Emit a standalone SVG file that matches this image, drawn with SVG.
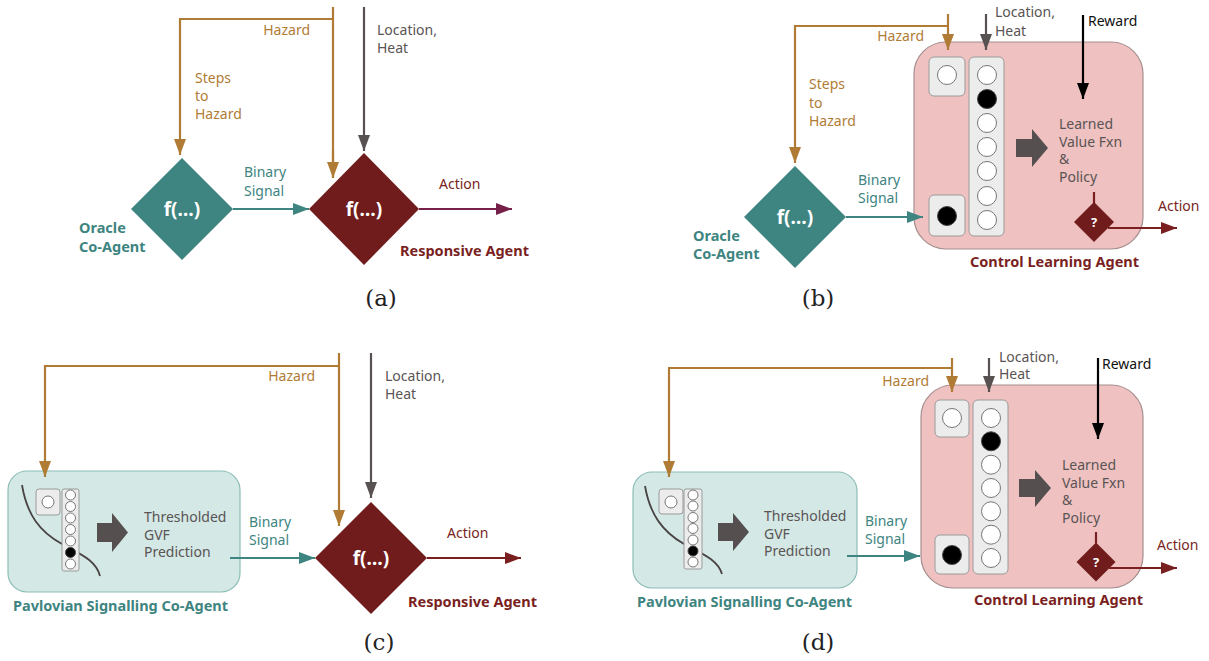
<svg xmlns="http://www.w3.org/2000/svg" width="1209" height="661" viewBox="0 0 1209 661">
<defs>
<style>
text{font-family:"Noto Sans","Open Sans","Liberation Sans",sans-serif;font-size:14px}
.or{fill:#b07c35}.gy{fill:#5a5454}.tl{fill:#3e8480}.rd{fill:#7a1f22}.bk{fill:#111}
.b{font-weight:700;font-size:14.5px}
.cap{font-family:"DejaVu Serif","Liberation Serif",serif;font-size:23px;fill:#222;text-anchor:middle}
.fn{fill:#fff;font-weight:700;font-size:19px;text-anchor:middle}
.q{fill:#fff;font-weight:700;font-size:13px;text-anchor:middle}
.lo{stroke:#b07c35;stroke-width:2.2;fill:none}
.lg{stroke:#575151;stroke-width:2.2;fill:none}
.lt{stroke:#3e8480;stroke-width:2.2;fill:none}
.lr{stroke:#7a1f1f;stroke-width:2.2;fill:none}
.lp{stroke:#76214a;stroke-width:2.2;fill:none}
.lb{stroke:#000;stroke-width:2.2;fill:none}
.dt{fill:#3e8480}.dr{fill:#701c1c}
.pk{fill:#efc1c1;stroke:#a58f8f;stroke-width:1.2}
.tb{fill:#d4e8e6;stroke:#8dbdb8;stroke-width:1.2}
.gb{fill:#ececec;stroke:#9a9a9a;stroke-width:1}
.wc{fill:#fff;stroke:#777;stroke-width:1}
.kc{fill:#000;stroke:#444;stroke-width:1}
.ar{fill:#564f4f}
.cv{fill:none;stroke:#4a4444;stroke-width:1.8}
</style>
<marker id="mo" markerUnits="userSpaceOnUse" markerWidth="16" markerHeight="12" refX="16" refY="6" orient="auto"><path d="M0,0 L16,6 L0,12 z" fill="#b07c35"/></marker>
<marker id="mg" markerUnits="userSpaceOnUse" markerWidth="16" markerHeight="12" refX="16" refY="6" orient="auto"><path d="M0,0 L16,6 L0,12 z" fill="#575151"/></marker>
<marker id="mt" markerUnits="userSpaceOnUse" markerWidth="16" markerHeight="12" refX="16" refY="6" orient="auto"><path d="M0,0 L16,6 L0,12 z" fill="#3e8480"/></marker>
<marker id="mr" markerUnits="userSpaceOnUse" markerWidth="16" markerHeight="12" refX="16" refY="6" orient="auto"><path d="M0,0 L16,6 L0,12 z" fill="#7a1f1f"/></marker>
<marker id="mp" markerUnits="userSpaceOnUse" markerWidth="16" markerHeight="12" refX="16" refY="6" orient="auto"><path d="M0,0 L16,6 L0,12 z" fill="#76214a"/></marker>
<marker id="mb" markerUnits="userSpaceOnUse" markerWidth="16" markerHeight="12" refX="16" refY="6" orient="auto"><path d="M0,0 L16,6 L0,12 z" fill="#000"/></marker>
</defs>
<rect width="1209" height="661" fill="#fff"/>

<!-- ===== Panel (a) ===== -->
<g id="a-oracle">
<path class="dt" d="M182,158 L233,209 L182,260 L131,209 z"/>
<text class="fn" x="182" y="216">f(…)</text>
<text class="tl b" x="79" y="233">Oracle</text>
<text class="tl b" x="79" y="252">Co-Agent</text>
</g>
<g id="a-responsive">
<path class="dr" d="M364,153 L419,209 L364,265 L309,209 z"/>
<text class="fn" x="364" y="216">f(…)</text>
<text class="rd b" x="400" y="256">Responsive Agent</text>
</g>
<g id="a-connectors">
<path class="lo" d="M333,7 L333,178"/>
<path class="lo" d="M333,19 L180,19 L180,155" marker-end="url(#mo)"/>
<path class="lo" d="M333,150 L333,178" marker-end="url(#mo)"/>
<path class="lg" d="M364,7 L364,151" marker-end="url(#mg)"/>
<path class="lt" d="M233,209 L309,209" marker-end="url(#mt)"/>
<path class="lp" d="M419,209 L512,209" marker-end="url(#mp)"/>
<text class="or" x="310" y="35" text-anchor="end">Hazard</text>
<text class="or" x="195" y="83">Steps</text>
<text class="or" x="195" y="101">to</text>
<text class="or" x="195" y="119">Hazard</text>
<text class="gy" x="377" y="35">Location,</text>
<text class="gy" x="377" y="53">Heat</text>
<text class="tl" x="244" y="177">Binary</text>
<text class="tl" x="244" y="196">Signal</text>
<text class="rd" x="439" y="189">Action</text>
</g>
<text class="cap" x="381" y="306">(a)</text>

<!-- ===== Panel (b) ===== -->
<g id="b-oracle">
<path class="dt" d="M795,166 L846,217 L795,268 L744,217 z"/>
<text class="fn" x="795" y="224">f(…)</text>
<text class="tl b" x="693" y="241">Oracle</text>
<text class="tl b" x="693" y="259">Co-Agent</text>
</g>
<g id="b-control">
<rect class="pk" x="914" y="42" width="229" height="207" rx="32"/>
<rect class="gb" x="929" y="57" width="36" height="39" rx="5"/>
<circle class="wc" cx="947" cy="75" r="9.5"/>
<rect class="gb" x="929" y="195" width="36" height="41" rx="5"/>
<circle class="kc" cx="947" cy="216" r="9.5"/>
<rect class="gb" x="969" y="57" width="35" height="179" rx="5"/>
<circle class="wc" cx="987" cy="75" r="9.5"/>
<circle class="kc" cx="987" cy="99" r="9.5"/>
<circle class="wc" cx="987" cy="123" r="9.5"/>
<circle class="wc" cx="987" cy="147" r="9.5"/>
<circle class="wc" cx="987" cy="171" r="9.5"/>
<circle class="wc" cx="987" cy="196" r="9.5"/>
<circle class="wc" cx="987" cy="220" r="9.5"/>
<path class="ar" d="M1016,139 L1032,139 L1032,129 L1048,148 L1032,167 L1032,157 L1016,157 z"/>
<text class="gy" x="1059" y="129">Learned</text>
<text class="gy" x="1059" y="146.5">Value Fxn</text>
<text class="gy" x="1059" y="164">&amp;</text>
<text class="gy" x="1059" y="181.5">Policy</text>
<path class="lr" d="M1094,192 L1094,203"/>
<path class="dr" d="M1094,202 L1114,222 L1094,242 L1074,222 z"/>
<text class="q" x="1094" y="227">?</text>
<text class="rd b" x="970" y="267">Control Learning Agent</text>
</g>
<g id="b-connectors">
<path class="lo" d="M948,14 L948,50" marker-end="url(#mo)"/>
<path class="lo" d="M948,26 L795,26 L795,163" marker-end="url(#mo)"/>
<path class="lg" d="M986,14 L986,50" marker-end="url(#mg)"/>
<path class="lb" d="M1083,15 L1083,99" marker-end="url(#mb)"/>
<path class="lt" d="M846,217 L923,217" marker-end="url(#mt)"/>
<path class="lr" d="M1108,228 L1177,228" marker-end="url(#mr)"/>
<text class="or" x="924" y="41" text-anchor="end">Hazard</text>
<text class="or" x="809" y="89">Steps</text>
<text class="or" x="809" y="108">to</text>
<text class="or" x="809" y="126">Hazard</text>
<text class="gy" x="995" y="17">Location,</text>
<text class="gy" x="995" y="36">Heat</text>
<text class="bk" x="1088" y="26">Reward</text>
<text class="tl" x="858" y="185">Binary</text>
<text class="tl" x="858" y="203">Signal</text>
<text class="rd" x="1158" y="211">Action</text>
</g>
<text class="cap" x="818" y="306">(b)</text>

<!-- ===== Panel (c) ===== -->
<g id="c-pavlovian">
<rect class="tb" x="8" y="471" width="232" height="121" rx="19"/>
<path class="cv" d="M22,485 C27,515 40,532 62,544 C80,554 96,560 100,576"/>
<rect class="gb" x="36" y="489" width="24" height="26" rx="3"/>
<circle class="wc" cx="48" cy="502" r="6"/>
<rect class="gb" x="62" y="489" width="17" height="82" rx="2"/>
<circle class="wc" cx="70.5" cy="495" r="5"/>
<circle class="wc" cx="70.5" cy="506.5" r="5"/>
<circle class="wc" cx="70.5" cy="518" r="5"/>
<circle class="wc" cx="70.5" cy="529.5" r="5"/>
<circle class="wc" cx="70.5" cy="541" r="5"/>
<circle class="kc" cx="70.5" cy="552.5" r="5"/>
<circle class="wc" cx="70.5" cy="564" r="5"/>
<path class="ar" d="M97,523 L112,523 L112,513 L128,532.5 L112,552 L112,542 L97,542 z"/>
<text class="gy" x="144" y="522">Thresholded</text>
<text class="gy" x="144" y="539.5">GVF</text>
<text class="gy" x="144" y="557">Prediction</text>
<text class="tl b" x="13" y="611">Pavlovian Signalling Co-Agent</text>
</g>
<g id="c-responsive">
<path class="dr" d="M371,502 L427,558 L371,614 L315,558 z"/>
<text class="fn" x="371" y="565">f(…)</text>
<text class="rd b" x="408" y="607">Responsive Agent</text>
</g>
<g id="c-connectors">
<path class="lo" d="M339,353 L339,526" marker-end="url(#mo)"/>
<path class="lo" d="M339,366 L45,366 L45,477" marker-end="url(#mo)"/>
<path class="lg" d="M371,353 L371,498" marker-end="url(#mg)"/>
<path class="lt" d="M230,558 L315,558" marker-end="url(#mt)"/>
<path class="lr" d="M427,558 L521,558" marker-end="url(#mr)"/>
<text class="or" x="315" y="381" text-anchor="end">Hazard</text>
<text class="gy" x="385" y="381">Location,</text>
<text class="gy" x="385" y="399">Heat</text>
<text class="tl" x="249" y="527">Binary</text>
<text class="tl" x="249" y="545">Signal</text>
<text class="rd" x="447" y="538">Action</text>
</g>
<text class="cap" x="379" y="650">(c)</text>

<!-- ===== Panel (d) ===== -->
<g id="d-pavlovian">
<rect class="tb" x="633" y="472" width="224" height="116" rx="19"/>
<path class="cv" d="M645,486 C650,515 663,532 684,544 C703,554 718,560 722,574"/>
<rect class="gb" x="659" y="489" width="24" height="25" rx="3"/>
<circle class="wc" cx="671" cy="502" r="6"/>
<rect class="gb" x="684" y="489" width="18" height="80" rx="2"/>
<circle class="wc" cx="693" cy="495" r="5"/>
<circle class="wc" cx="693" cy="506" r="5"/>
<circle class="wc" cx="693" cy="517.5" r="5"/>
<circle class="wc" cx="693" cy="528.5" r="5"/>
<circle class="wc" cx="693" cy="540" r="5"/>
<circle class="kc" cx="693" cy="551" r="5"/>
<circle class="wc" cx="693" cy="562" r="5"/>
<path class="ar" d="M718,523 L733,523 L733,513 L749,532 L733,551 L733,541 L718,541 z"/>
<text class="gy" x="764" y="521">Thresholded</text>
<text class="gy" x="764" y="538.5">GVF</text>
<text class="gy" x="764" y="556">Prediction</text>
<text class="tl b" x="637" y="607">Pavlovian Signalling Co-Agent</text>
</g>
<g id="d-control">
<rect class="pk" x="921" y="385" width="222" height="203" rx="32"/>
<rect class="gb" x="935" y="400" width="34" height="37" rx="5"/>
<circle class="wc" cx="952" cy="418" r="9.5"/>
<rect class="gb" x="935" y="535" width="34" height="39" rx="5"/>
<circle class="kc" cx="952" cy="555" r="9.5"/>
<rect class="gb" x="973" y="400" width="35" height="174" rx="5"/>
<circle class="wc" cx="991" cy="418" r="9.5"/>
<circle class="kc" cx="991" cy="441.3" r="9.5"/>
<circle class="wc" cx="991" cy="464.7" r="9.5"/>
<circle class="wc" cx="991" cy="488" r="9.5"/>
<circle class="wc" cx="991" cy="511.3" r="9.5"/>
<circle class="wc" cx="991" cy="534.7" r="9.5"/>
<circle class="wc" cx="991" cy="558" r="9.5"/>
<path class="ar" d="M1019,479 L1035,479 L1035,470 L1051,488 L1035,507 L1035,497 L1019,497 z"/>
<text class="gy" x="1062" y="470">Learned</text>
<text class="gy" x="1062" y="487.5">Value Fxn</text>
<text class="gy" x="1062" y="505">&amp;</text>
<text class="gy" x="1062" y="522.5">Policy</text>
<path class="lr" d="M1096,532 L1096,543"/>
<path class="dr" d="M1096,542.5 L1115.5,562 L1096,581.5 L1076.5,562 z"/>
<text class="q" x="1096" y="567">?</text>
<text class="rd b" x="974" y="605">Control Learning Agent</text>
</g>
<g id="d-connectors">
<path class="lo" d="M952,358 L952,392" marker-end="url(#mo)"/>
<path class="lo" d="M952,368 L669,368 L669,477" marker-end="url(#mo)"/>
<path class="lg" d="M989,358 L989,392" marker-end="url(#mg)"/>
<path class="lb" d="M1098,358 L1098,439" marker-end="url(#mb)"/>
<path class="lt" d="M847,556 L920,556" marker-end="url(#mt)"/>
<path class="lr" d="M1109,568 L1177,568" marker-end="url(#mr)"/>
<text class="or" x="929" y="386" text-anchor="end">Hazard</text>
<text class="gy" x="999" y="362">Location,</text>
<text class="gy" x="999" y="379">Heat</text>
<text class="bk" x="1102" y="369">Reward</text>
<text class="tl" x="865" y="526">Binary</text>
<text class="tl" x="865" y="544">Signal</text>
<text class="rd" x="1157" y="550">Action</text>
</g>
<text class="cap" x="818" y="650">(d)</text>
</svg>
